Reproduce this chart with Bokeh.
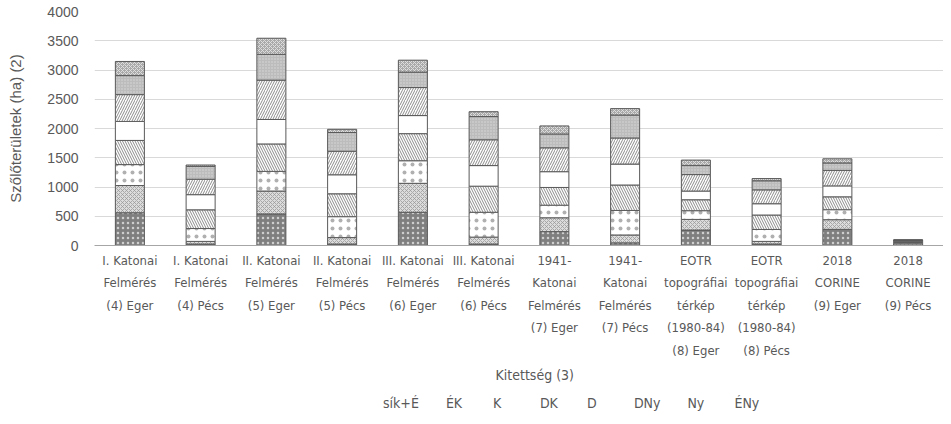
from bokeh.plotting import figure
from bokeh.layouts import column
from bokeh.models import (ColumnDataSource, Legend, LegendItem, FactorRange,
                          FixedTicker, Label, Range1d)
from bokeh.embed import file_html
from bokeh.resources import INLINE

categories = [
    "I. Katonai\nFelmérés\n(4) Eger", "I. Katonai\nFelmérés\n(4) Pécs",
    "II. Katonai\nFelmérés\n(5) Eger", "II. Katonai\nFelmérés\n(5) Pécs",
    "III. Katonai\nFelmérés\n(6) Eger", "III. Katonai\nFelmérés\n(6) Pécs",
    "1941-\nKatonai\nFelmérés\n(7) Eger", "1941-\nKatonai\nFelmérés\n(7) Pécs",
    "EOTR\ntopográfiai\ntérkép\n(1980-84)\n(8) Eger", "EOTR\ntopográfiai\ntérkép\n(1980-84)\n(8) Pécs",
    "2018\nCORINE\n(9) Eger", "2018\nCORINE\n(9) Pécs",
]
series_names = ["sík+É", "ÉK", "K", "DK", "D", "DNy", "Ny", "ÉNy"]

sik_E = [560, 25, 540, 25, 568, 25, 237, 45, 264, 25, 276, 5]
EK = [465, 45, 391, 110, 495, 118, 237, 135, 182, 45, 165, 25]
K = [358, 220, 336, 358, 386, 425, 215, 419, 149, 204, 171, 20]
DK = [413, 320, 469, 391, 463, 446, 303, 435, 187, 247, 220, 15]
D = [325, 259, 418, 325, 309, 352, 270, 358, 149, 193, 187, 15]
DNy = [458, 264, 673, 402, 479, 441, 408, 446, 281, 237, 265, 8]
Ny = [325, 220, 440, 320, 264, 397, 236, 392, 154, 155, 127, 5]
ENy = [242, 23, 276, 55, 204, 83, 138, 110, 94, 38, 71, 3]
y_ticks = [0, 500, 1000, 1500, 2000, 2500, 3000, 3500, 4000]
x_title = "Kitettség (3)"
y_title = "Szőlőterületek (ha) (2)"

series_values = [sik_E, EK, K, DK, D, DNy, Ny, ENy]

styles = [
    dict(fill_color="#7f7f7f", hatch_pattern="dot", hatch_color="#cfcfcf", hatch_scale=5, hatch_weight=1),
    dict(fill_color="#dcdcdc", hatch_pattern="diagonal_cross", hatch_color="#9a9a9a", hatch_scale=4, hatch_weight=0.8),
    dict(fill_color="white", hatch_pattern="dot", hatch_color="#b0b0b0", hatch_scale=8, hatch_weight=1),
    dict(fill_color="white", hatch_pattern="left_diagonal_line", hatch_color="#8c8c8c", hatch_scale=5, hatch_weight=1),
    dict(fill_color="white"),
    dict(fill_color="white", hatch_pattern="right_diagonal_line", hatch_color="#8c8c8c", hatch_scale=5, hatch_weight=1),
    dict(fill_color="#bcbcbc", hatch_pattern="dot", hatch_color="#dadada", hatch_scale=3, hatch_weight=0.6),
    dict(fill_color="#a9a9a9", hatch_pattern="diagonal_cross", hatch_color="#dedede", hatch_scale=4, hatch_weight=1),
]

data = {"cat": categories}
cum = [0] * len(categories)
for i, vals in enumerate(series_values):
    data[f"b{i}"] = list(cum)
    cum = [c + v for c, v in zip(cum, vals)]
    data[f"t{i}"] = list(cum)
source = ColumnDataSource(data)

NARROW = "DejaVu Sans Condensed, Liberation Sans"
REG = "Liberation Sans"

W = 943
H1 = 360
H2 = 54

chart = figure(
    x_range=FactorRange(*categories, range_padding=0),
    y_range=(0, 4000),
    width=W, height=H1,
    output_backend="svg", toolbar_location=None,
    min_border_left=94, min_border_right=0, min_border_top=11, min_border_bottom=0,
)
chart.outline_line_color = None
chart.background_fill_color = "white"
chart.border_fill_color = "white"

for i, name in enumerate(series_names):
    chart.vbar(x="cat", bottom=f"b{i}", top=f"t{i}", width=0.41, source=source,
               line_color="#595959", line_width=1, **styles[i])

chart.xgrid.grid_line_color = None
chart.ygrid.grid_line_color = "#d9d9d9"
chart.ygrid.grid_line_width = 1

chart.yaxis.ticker = FixedTicker(ticks=y_ticks)
chart.yaxis.axis_line_color = None
chart.yaxis.major_tick_line_color = None
chart.yaxis.minor_tick_line_color = None
chart.yaxis.major_label_text_font = REG
chart.yaxis.major_label_text_font_size = "14px"
chart.yaxis.major_label_text_color = "#595959"
chart.yaxis.major_label_standoff = 10
chart.yaxis.axis_label = y_title
chart.yaxis.axis_label_text_font = REG
chart.yaxis.axis_label_text_font_size = "15px"
chart.yaxis.axis_label_text_font_style = "normal"
chart.yaxis.axis_label_text_color = "#595959"
chart.yaxis.axis_label_standoff = 20

chart.xaxis.axis_line_color = "#a6a6a6"
chart.xaxis.axis_line_width = 1
chart.xaxis.major_tick_line_color = None
chart.xaxis.minor_tick_line_color = None
chart.xaxis.major_tick_out = 0
chart.xaxis.major_label_text_font = NARROW
chart.xaxis.major_label_text_font_size = "13px"
chart.xaxis.major_label_text_color = "#595959"
chart.xaxis.major_label_text_line_height = 1.5
chart.xaxis.major_label_standoff = 7

# Bottom strip: x-axis title and legend, laid out in pixel units
leg_fig = figure(
    width=W, height=H2, x_range=Range1d(0, W), y_range=Range1d(0, H2),
    output_backend="svg", toolbar_location=None,
    x_axis_location=None, y_axis_location=None, min_border=0,
)
leg_fig.outline_line_color = None
leg_fig.xgrid.visible = False
leg_fig.ygrid.visible = False
leg_fig.background_fill_color = "white"
leg_fig.border_fill_color = "white"

leg_fig.add_layout(Label(x=489, y=H2 - 14, text=x_title,
                         text_font=NARROW, text_font_size="14px", text_color="#595959",
                         text_align="center", text_baseline="middle"))

items = []
for i, name in enumerate(series_names):
    empty = ColumnDataSource(dict(x=[], top=[]))
    r = leg_fig.vbar(x="x", top="top", width=1, source=empty,
                     line_color="#595959", line_width=1, **styles[i])
    items.append(LegendItem(label=name, renderers=[r]))

legend = Legend(items=items, orientation="horizontal", location=(275, 3),
                glyph_width=10, glyph_height=10, label_standoff=4, spacing=13,
                label_text_font=NARROW, label_text_font_size="14px",
                label_text_color="#595959", border_line_color=None,
                background_fill_alpha=0, padding=0, margin=0)
leg_fig.add_layout(legend, "center")

p = column(chart, leg_fig, spacing=0)

open("out.html", "w").write(file_html(p, INLINE))
